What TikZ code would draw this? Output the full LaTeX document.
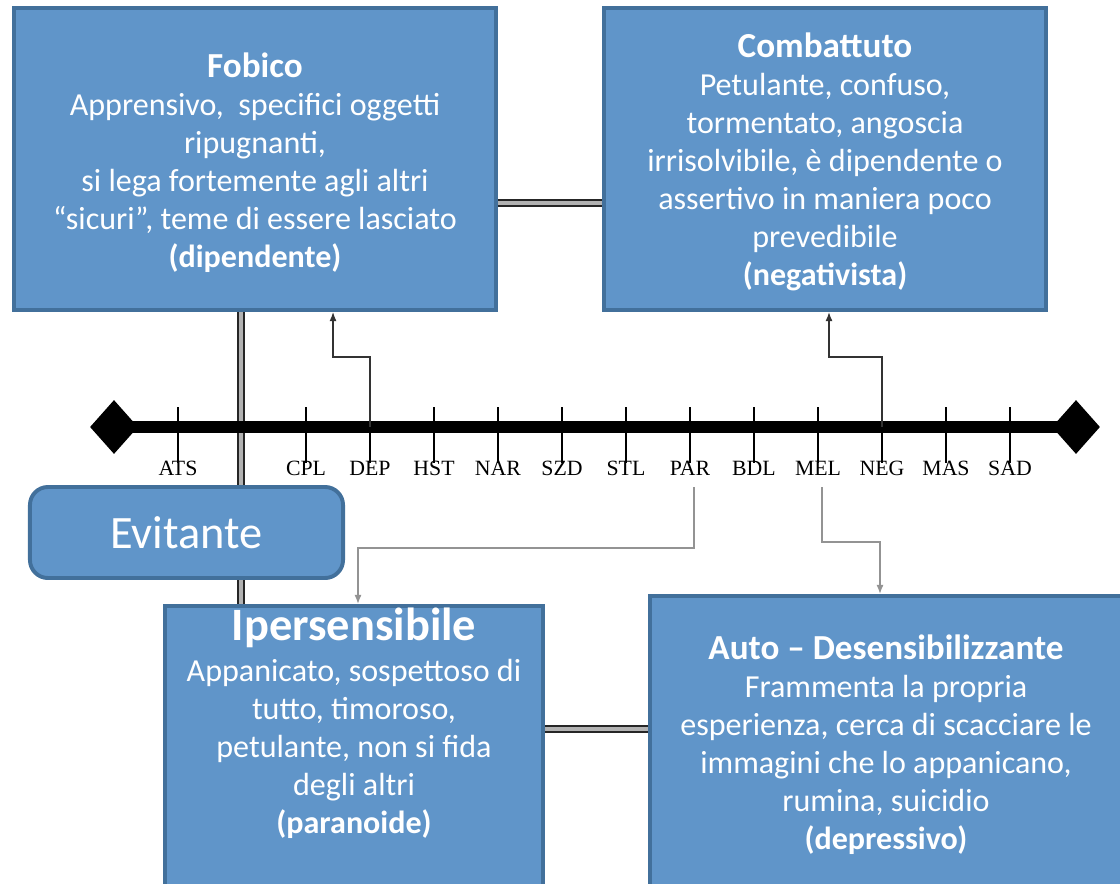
\documentclass[tikz,border=0pt]{standalone}
\usepackage{fontspec}
\setmainfont{Carlito}
\newfontfamily\axisfont{Liberation Serif}
\usetikzlibrary{shapes.geometric,arrows.meta}
\definecolor{boxfill}{RGB}{96,149,201}
\definecolor{boxline}{RGB}{66,112,155}

\begin{document}
\begin{tikzpicture}[x=0.025cm,y=-0.025cm,>={Latex[length=6.5pt,width=5pt]},
    box/.style={draw=boxline,fill=boxfill,line width=2.8pt,inner sep=0pt},
    txt/.style={text=white,align=center,font=\fontsize{22.8}{27}\selectfont,inner sep=0pt},
    dbl/.style={draw=black!85,double=gray!60,double distance=2.4pt,line width=1.4pt},
    conn/.style={->,draw=black!80,line width=0.9pt},
    gconn/.style={->,draw=gray!85,line width=0.9pt},
    tickmark/.style={draw=black,line width=1pt},
    lbl/.style={font=\axisfont\fontsize{15.5}{15.5}\selectfont,inner sep=0pt,anchor=base}]

\useasboundingbox (0,0) rectangle (1120,883);
\clip (0,0) rectangle (1120,883);
\fill[white] (0,0) rectangle (1120,883);

% upper boxes
\node[box,minimum width=12.05cm,minimum height=7.55cm] (fob) at (255,159) {};
\node[box,minimum width=11.05cm,minimum height=7.55cm] (com) at (825,159) {};
\node[txt] (fobtxt) at (255,163) {{\fontsize{25}{27}\selectfont\bfseries Fobico}\\
  Apprensivo,~ specifici oggetti\\ ripugnanti,\\ si lega fortemente agli altri\\
  “sicuri”, teme di essere lasciato\\ {\bfseries (dipendente)}};
\node[txt] (comtxt) at (825,162) {{\fontsize{25}{27}\selectfont\bfseries Combattuto}\\
  Petulante, confuso,\\ tormentato, angoscia\\ irrisolvibile, è dipendente o\\
  assertivo in maniera poco\\ prevedibile\\ {\bfseries (negativista)}};

% lower boxes
\node[box,minimum width=9.45cm,minimum height=7.35cm] (ipe) at (354,753) {};
\node[box,minimum width=12cm,minimum height=7.6cm] (aut) at (890,748) {};
\node[txt] (ipetxt) at (354,723) {{\fontsize{33}{33}\selectfont\bfseries Ipersensibile}\\[2pt]
  Appanicato, sospettoso di\\ tutto, timoroso,\\ petulante, non si fida\\
  degli altri\\ {\bfseries (paranoide)}};
\node[txt] (auttxt) at (886,745) {{\fontsize{25}{27}\selectfont\bfseries Auto -- Desensibilizzante}\\
  Frammenta la propria\\ esperienza, cerca di scacciare le\\ immagini che lo appanicano,\\
  rumina, suicidio\\ {\bfseries (depressivo)}};

% double links
\draw[dbl] ([yshift=-1.1cm]fob.east) -- ([yshift=-1.1cm]com.west);
\draw[dbl] ([yshift=0.6cm]ipe.east) -- ([yshift=0.6cm]ipe.east -| aut.west);
\draw[dbl] ([xshift=-0.35cm]fob.south) -- ([xshift=-0.35cm]fob.south |- ipe.north);

\node[box,rounded corners=0.45cm,minimum width=7.825cm,minimum height=2.275cm,
  text=white,font=\fontsize{33}{36}\selectfont] (evi) at (186.5,532.5) {Evitante};

% timeline
\node[diamond,fill=black,minimum width=1.2cm,minimum height=1.35cm,inner sep=0pt] (dl) at (114,427) {};
\node[diamond,fill=black,minimum width=1.2cm,minimum height=1.35cm,inner sep=0pt] (dr) at (1076,427) {};
\draw[line width=0.28cm] (dl.center) -- (dr.center);
\foreach \k/\lab in {0/ATS,2/CPL,3/DEP,4/HST,5/NAR,6/SZD,7/STL,8/PAR,9/BDL,10/MEL,11/NEG,12/MAS,13/SAD} {
  \coordinate (t-\lab) at ({178+64*\k},427);
  \draw[tickmark] ([yshift=0.5cm]t-\lab) -- ([yshift=-0.9cm]t-\lab);
  \node[lbl] (l-\lab) at ([yshift=-1.2cm]t-\lab) {\lab};
}

% arrows
\draw[conn] (t-DEP) -- ++(0,-70) -| ([xshift=1.95cm]fob.south);
\draw[conn] (t-NEG) -- ++(0,-70) -| ([xshift=0.1cm]com.south);
\draw[gconn] ([xshift=0.1cm,yshift=-1.5cm]t-PAR) -- ++(0,61) -| ([xshift=0.1cm]ipe.north);
\draw[gconn] ([xshift=0.1cm,yshift=-1.5cm]t-MEL) -- ++(0,55) -| ([xshift=-0.25cm]aut.north);

\end{tikzpicture}
\end{document}
